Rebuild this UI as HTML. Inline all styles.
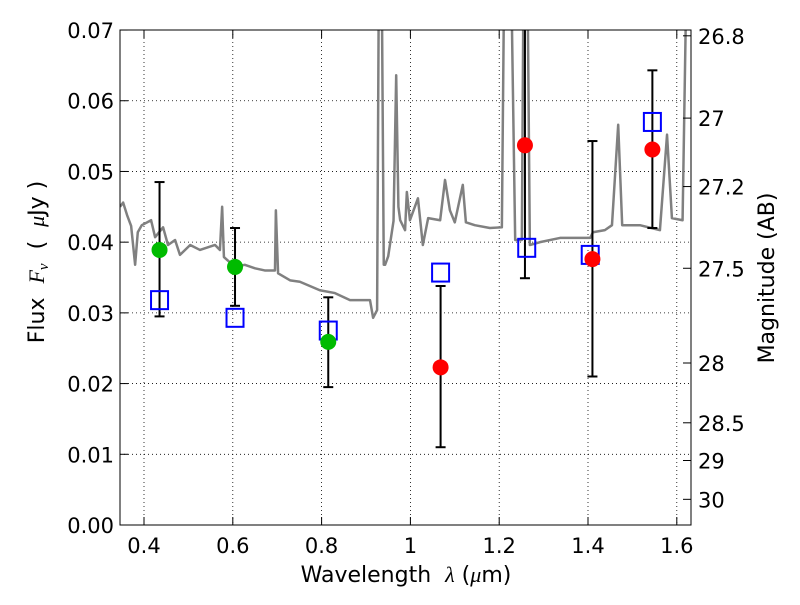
<!DOCTYPE html>
<html><head><meta charset="utf-8"><style>
body{margin:0;background:#fff}
svg text{font-family:"DejaVu Sans","Liberation Sans",sans-serif;fill:#000;white-space:pre}
</style></head><body>
<svg id="chart" width="800" height="600" viewBox="0 0 800 600" xmlns="http://www.w3.org/2000/svg">
<defs><clipPath id="plotclip"><rect x="120" y="30" width="571" height="495"/></clipPath></defs>
<rect width="800" height="600" fill="#fff"/>
<g id="grid"></g>
<g id="spec" clip-path="url(#plotclip)"></g>
<g id="marks" clip-path="url(#plotclip)"></g>
<rect x="120" y="30" width="571" height="495" fill="none" stroke="#000" stroke-width="1"/>
<g id="axes"></g>
<text x="406" y="582" font-size="22" text-anchor="middle">Wavelength  <tspan font-style="italic" font-family="Liberation Serif">λ</tspan> (<tspan font-style="italic" font-family="Liberation Serif">μ</tspan>m)</text>
<text transform="translate(44,262) rotate(-90)" font-size="22" text-anchor="middle">Flux  <tspan font-style="italic" font-family="Liberation Serif">F</tspan><tspan font-style="italic" font-family="Liberation Serif" font-size="15" dy="4">ν</tspan><tspan dy="-4">  (  </tspan><tspan font-style="italic" font-family="Liberation Serif">μ</tspan>Jy )</text>
<text transform="translate(774,278) rotate(-90)" font-size="22" text-anchor="middle">Magnitude (AB)</text>
</svg>
<script>
const xTicks=[0.4,0.6,0.8,1.0,1.2,1.4,1.6];
const xTickLabels=["0.4","0.6","0.8","1","1.2","1.4","1.6"];
const yTicks=[0,0.01,0.02,0.03,0.04,0.05,0.06,0.07];
const yTickLabels=["0.00","0.01","0.02","0.03","0.04","0.05","0.06","0.07"];
const magTicks=[26.8,27,27.2,27.5,28,28.5,29,30];
const magTickLabels=["26.8","27","27.2","27.5","28","28.5","29","30"];
const specWave=[0.346,0.353,0.362,0.371,0.380,0.386,0.395,0.416,0.425,0.443,0.454,0.470,0.481,0.504,0.526,0.560,0.571,0.576,0.580,0.605,0.627,0.650,0.672,0.695,0.697,0.702,0.729,0.751,0.796,0.830,0.864,0.909,0.916,0.925,0.930,0.934,0.940,0.943,0.950,0.962,0.968,0.973,0.977,0.988,0.992,0.999,1.017,1.028,1.040,1.067,1.078,1.089,1.100,1.118,1.125,1.145,1.179,1.206,1.213,1.224,1.236,1.251,1.256,1.262,1.269,1.292,1.337,1.405,1.411,1.438,1.454,1.468,1.477,1.517,1.562,1.578,1.589,1.613,1.625];
const specFlux=[0.045,0.0456,0.0438,0.0423,0.0368,0.0414,0.0424,0.0431,0.0407,0.0421,0.0396,0.0403,0.0382,0.0396,0.0389,0.0396,0.0389,0.045,0.0379,0.0365,0.0368,0.0363,0.036,0.036,0.0445,0.0356,0.0346,0.0344,0.0332,0.0328,0.0318,0.0318,0.0293,0.0304,0.09,0.09,0.0368,0.0368,0.038,0.043,0.0636,0.045,0.0431,0.0417,0.0471,0.0431,0.0462,0.0396,0.0434,0.0431,0.0488,0.0445,0.0428,0.0481,0.0428,0.0424,0.042,0.0421,0.09,0.09,0.0403,0.0403,0.09,0.09,0.0396,0.04,0.0406,0.0406,0.0414,0.0417,0.0424,0.0566,0.0424,0.0424,0.0417,0.0552,0.0434,0.0431,0.09];
const obsWave=[0.435,0.605,0.815,1.068,1.258,1.41,1.545];
const obsFlux=[0.0389,0.0365,0.0259,0.0223,0.0537,0.0376,0.0531];
const obsLow=[0.0295,0.031,0.0195,0.011,0.0349,0.021,0.042];
const obsHigh=[0.0485,0.042,0.0322,0.0338,0.09,0.0543,0.0643];
const obsColor=["#00bb00","#00bb00","#00bb00","#ff0000","#ff0000","#ff0000","#ff0000"];
const modWave=[0.435,0.605,0.815,1.068,1.262,1.405,1.545];
const modFlux=[0.0318,0.0293,0.0275,0.0357,0.0392,0.0382,0.057];

const NS="http://www.w3.org/2000/svg";
const X=v=>144+(v-0.4)*444;
const Y=v=>525-v*7071;
const magToFlux=m=>Math.pow(10,(23.9-m)/2.5);
function mk(tag,attrs,parent){const e=document.createElementNS(NS,tag);for(const k in attrs)e.setAttribute(k,attrs[k]);parent.appendChild(e);return e;}
const grid=document.getElementById('grid'),axes=document.getElementById('axes');
xTicks.forEach((t,i)=>{
 const g=mk('line',{x1:X(t),x2:X(t),y1:30,y2:525,stroke:'#000','stroke-width':0.8,'stroke-dasharray':'1,3'},grid);
 
 mk('line',{x1:X(t),x2:X(t),y1:525,y2:517,stroke:'#000'},axes);
 mk('line',{x1:X(t),x2:X(t),y1:30,y2:38,stroke:'#000'},axes);
 const tx=mk('text',{x:X(t),y:553,'font-size':21,'text-anchor':'middle'},axes);tx.textContent=xTickLabels[i];
 
});
yTicks.forEach((t,i)=>{
 const g=mk('line',{x1:120,x2:691,y1:Y(t),y2:Y(t),stroke:'#000','stroke-width':0.8,'stroke-dasharray':'1,3'},grid);
 
 mk('line',{x1:120,x2:128,y1:Y(t),y2:Y(t),stroke:'#000'},axes);
 const tx=mk('text',{x:114,y:Y(t)+8,'font-size':21,'text-anchor':'end'},axes);tx.textContent=yTickLabels[i];
 
});
magTicks.forEach((m,i)=>{
 const y=Y(magToFlux(m));
 mk('line',{x1:683,x2:691,y1:y,y2:y,stroke:'#000'},axes);
 const tx=mk('text',{x:698,y:y+8,'font-size':21},axes);tx.textContent=magTickLabels[i];
 
});
const spec=document.getElementById('spec');
const pl=mk('polyline',{points:specWave.map((w,i)=>X(w)+','+Y(specFlux[i])).join(' '),fill:'none',stroke:'#808080','stroke-width':2.5,'stroke-linejoin':'round'},spec);

const marks=document.getElementById('marks');
obsWave.forEach((w,i)=>{
 const x=X(w);
 const eb=mk('g',{},marks);
 
 mk('line',{x1:x,x2:x,y1:Y(obsLow[i]),y2:Y(obsHigh[i]),stroke:'#000','stroke-width':2},eb);
 mk('line',{x1:x-5,x2:x+5,y1:Y(obsLow[i]),y2:Y(obsLow[i]),stroke:'#000','stroke-width':2},eb);
 mk('line',{x1:x-5,x2:x+5,y1:Y(obsHigh[i]),y2:Y(obsHigh[i]),stroke:'#000','stroke-width':2},eb);
});
modWave.forEach((w,i)=>{
 const r=mk('rect',{x:X(w)-8.5,y:Y(modFlux[i])-9,width:17,height:18,fill:'none',stroke:'#0000ff','stroke-width':2},marks);
 
});
obsWave.forEach((w,i)=>{
 const c=mk('circle',{cx:X(w),cy:Y(obsFlux[i]),r:8,fill:obsColor[i]},marks);
 
});
</script>
</body></html>
